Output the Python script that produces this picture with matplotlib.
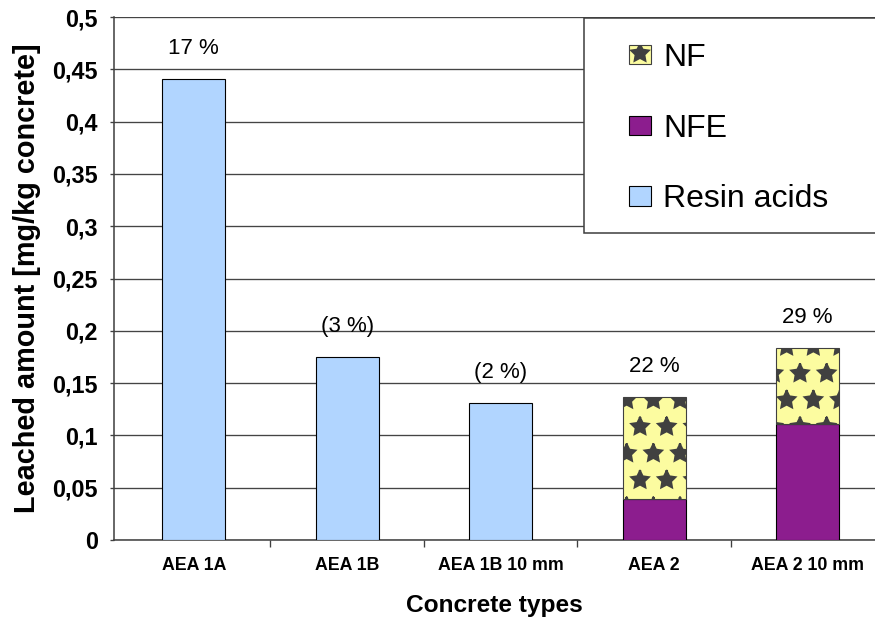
import matplotlib
matplotlib.use('Agg')
import matplotlib.pyplot as plt
import numpy as np
from matplotlib.ticker import FuncFormatter, FixedLocator

# values (mg/kg concrete)
categories = ['AEA 1A', 'AEA 1B', 'AEA 1B 10 mm', 'AEA 2', 'AEA 2 10 mm']
resin_acids = [0.441, 0.175, 0.131, 0.0, 0.0]
nfe = [0.0, 0.0, 0.0, 0.039, 0.111]
nf = [0.0, 0.0, 0.0, 0.098, 0.073]
share_labels = ['17 %', '(3 %)', '(2 %)', '22 %', '29 %']
y_ticks = [0, 0.05, 0.1, 0.15, 0.2, 0.25, 0.3, 0.35, 0.4, 0.45, 0.5]

RESIN = '#B1D5FF'
NFE_C = '#8C1D8E'
NF_C = '#FCFCA0'
PAT = '#404040'

# dpi 160 so the hatch cell comes out ~27 px like the Excel pattern
DPI = 160
plt.rcParams['font.family'] = ['Liberation Sans', 'DejaVu Sans']
plt.rcParams['hatch.linewidth'] = 1.0

W, H = 875, 631
fig = plt.figure(figsize=(W / DPI, H / DPI), dpi=DPI)
ax = fig.add_axes([114 / W, 91 / H, (W - 114) / W, (540 - 17) / H])

x = np.arange(len(categories))
width = 0.41
resin = np.array(resin_acids)
e = np.array(nfe)
f = np.array(nf)

has_r = resin > 0
has_s = (e + f) > 0
ax.bar(x[has_r], resin[has_r], width, color=RESIN, edgecolor='black',
       linewidth=0.5, zorder=3)
ax.bar(x[has_s], e[has_s], width, color=NFE_C, edgecolor='black',
       linewidth=0.5, zorder=3)
ax.bar(x[has_s], f[has_s], width, bottom=e[has_s], color=NF_C,
       edgecolor=PAT, hatch='*', linewidth=0.5, zorder=3)

totals = resin + e + f
for xi, t, lab in zip(x, totals, share_labels):
    ax.annotate(lab, (xi, t), xytext=(0, 13.5), textcoords='offset points',
                ha='center', va='center', fontsize=10)

ax.set_xlim(-0.52, 4.44)
ax.set_ylim(0, 0.5)
ax.yaxis.set_major_locator(FixedLocator(y_ticks))
ax.yaxis.set_major_formatter(
    FuncFormatter(lambda v, p: ('%g' % round(v, 2)).replace('.', ',')))
ax.set_xticks(x)
ax.set_xticklabels(categories, fontsize=8, fontweight='bold')
ax.set_xticks(x[:-1] + 0.5, minor=True)
ax.tick_params(axis='x', which='major', length=0, pad=7.5)
ax.tick_params(axis='x', which='minor', length=3, width=0.6, color='#404040')
ax.tick_params(axis='y', length=1.8, width=0.6, color='#404040',
               labelsize=10.5, pad=5.5)
for t in ax.get_yticklabels():
    t.set_fontweight('bold')

ax.yaxis.grid(True, color='#444444', linewidth=0.6, zorder=0)
ax.set_axisbelow(True)
for s in ('top', 'right'):
    ax.spines[s].set_visible(False)
ax.spines['left'].set_color('#404040')
ax.spines['bottom'].set_color('#404040')
ax.spines['left'].set_linewidth(0.7)
ax.spines['bottom'].set_linewidth(0.7)

ax.set_xlabel('Concrete types', fontsize=11, fontweight='bold', labelpad=9)
ax.set_ylabel('Leached amount [mg/kg concrete]', fontsize=13,
              fontweight='bold', labelpad=5)

# legend frame drawn separately so the entries can sit inset like Excel's
fig.patches.append(plt.Rectangle((584 / W, 1 - 233 / H), 310 / W, 215 / H,
                                 transform=fig.transFigure, facecolor='white',
                                 edgecolor='#404040', linewidth=0.7,
                                 zorder=4))
handles = [
    plt.Rectangle((0, 0), 1, 1, facecolor=NF_C, edgecolor=PAT,
                  hatch='*', linewidth=0.5),
    plt.Rectangle((0, 0), 1, 1, facecolor=NFE_C, edgecolor='black',
                  linewidth=0.5),
    plt.Rectangle((0, 0), 1, 1, facecolor=RESIN, edgecolor='black',
                  linewidth=0.5),
]
leg = fig.legend(handles, ['NF', 'NFE', 'Resin acids'],
                 loc='upper left', bbox_to_anchor=(629 / W, 1 - 43 / H),
                 fontsize=14.4, frameon=False, borderpad=0, borderaxespad=0,
                 labelspacing=1.27, handlelength=0.7, handleheight=0.55,
                 handletextpad=0.37)
leg.set_zorder(5)

fig.savefig('out.png', dpi=DPI)
